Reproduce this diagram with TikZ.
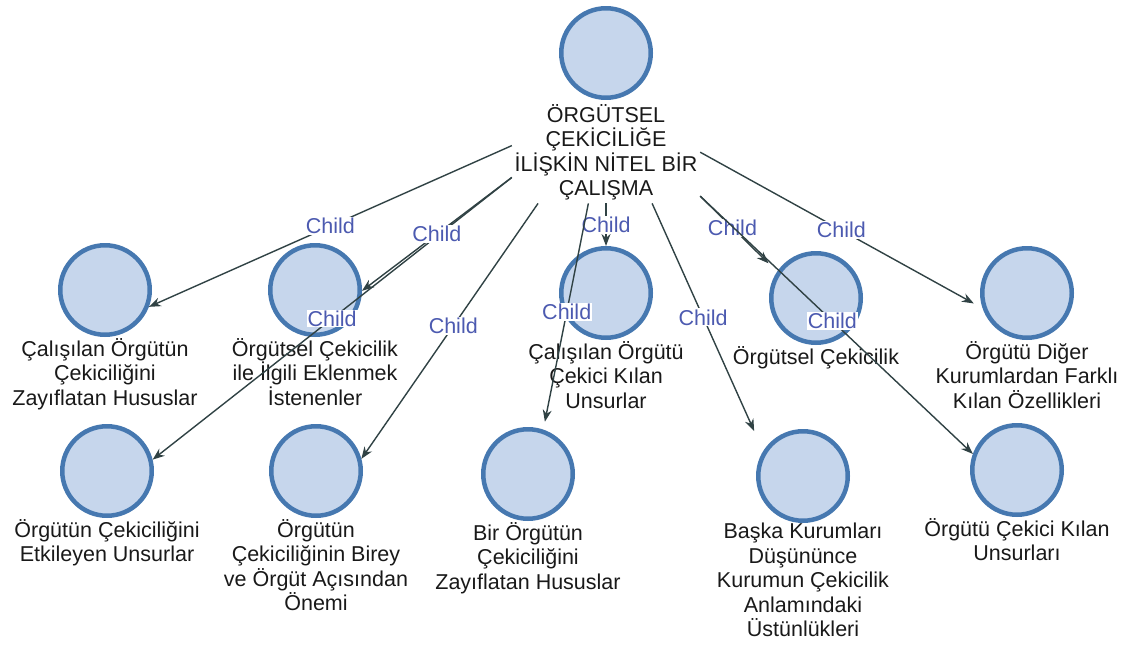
\documentclass[tikz,border=0pt]{standalone}
\usepackage{fontspec}
\setmainfont{Liberation Sans}
\usetikzlibrary{arrows.meta,positioning}
\definecolor{entfill}{RGB}{198,214,236}
\definecolor{entline}{RGB}{70,120,176}
\definecolor{linkcol}{RGB}{48,66,68}
\definecolor{childcol}{RGB}{76,90,176}
\begin{document}
\begin{tikzpicture}[x=1pt, y=-1pt, font=\fontsize{21.5}{24.5}\selectfont, line join=round, >={Stealth[length=12pt,width=9pt]},
    ent/.style={circle, draw=entline, fill=entfill, line width=4.5pt, minimum size=89.5pt, inner sep=0pt},
    txt/.style={align=center, inner sep=0pt, text=black!90, execute at begin node=\vphantom{Ö}},
    link/.style={->, draw=linkcol, line width=1.4pt},
    lab/.style={fill=white, text=childcol, inner sep=1pt}]
            \useasboundingbox (0,0) rectangle (1123,645);
            \node[ent] (root) at (606,53) {};
            \node[txt, minimum width=188pt, minimum height=102pt, below=1pt of root] (rt) {ÖRGÜTSEL\\ÇEKİCİLİĞE\\İLİŞKİN NİTEL BİR\\ÇALIŞMA};
            \node[ent] (zay) at (105,290) {};
            \node[txt, below=1pt of zay] (zayt) {Çalışılan Örgütün\\Çekiciliğini\\Zayıflatan Hususlar};
            \node[ent] (ekl) at (315,290) {};
            \node[txt, below=1pt of ekl] (eklt) {Örgütsel Çekicilik\\ile İlgili Eklenmek\\İstenenler};
            \node[ent] (cek) at (606,293) {};
            \node[txt, below=1pt of cek] (cekt) {Çalışılan Örgütü\\Çekici Kılan\\Unsurlar};
            \node[ent] (orc) at (816,298) {};
            \node[txt, below=1pt of orc] (orct) {Örgütsel Çekicilik};
            \node[ent] (fark) at (1027,293) {};
            \node[txt, below=1pt of fark] (farkt) {Örgütü Diğer\\Kurumlardan Farklı\\Kılan Özellikleri};
            \node[ent] (etk) at (107,471) {};
            \node[txt, below=1pt of etk] (etkt) {Örgütün Çekiciliğini\\Etkileyen Unsurlar};
            \node[ent] (onem) at (316,471) {};
            \node[txt, below=1pt of onem] (onemt) {Örgütün\\Çekiciliğinin Birey\\ve Örgüt Açısından\\Önemi};
            \node[ent] (bir) at (528,474) {};
            \node[txt, below=1pt of bir] (birt) {Bir Örgütün\\Çekiciliğini\\Zayıflatan Hususlar};
            \node[ent] (bas) at (803,476) {};
            \node[txt, below=0pt of bas] (bast) {Başka Kurumları\\Düşününce\\Kurumun Çekicilik\\Anlamındaki\\Üstünlükleri};
            \node[ent] (uns) at (1017,470) {};
            \node[txt, below=1pt of uns] (unst) {Örgütü Çekici Kılan\\Unsurları};
            \draw[link] (rt.176) -- node[lab] {Child} (zay.339);
            \draw[link] (rt.195) -- node[lab] {Child} (etk.14);
            \draw[link] (rt.195) -- node[lab] {Child} (ekl.359);
            \draw[link] (rt.217) -- node[lab, pos=.48] {Child} (onem.15);
            \draw[link] (rt.south) -- node[lab] {Child} (cek.north);
            \draw[link, shorten >=8pt] (rt.251) -- node[lab, pos=.48] {Child} (bir.71);
            \draw[link, shorten >=22pt] (rt.312) -- node[lab, pos=.46] {Child} (bas.148);
            \draw[link, shorten >=12pt] (rt.335) -- node[lab, pos=.42] {Child} (orc.146);
            \draw[link] (rt.335) -- node[lab, pos=.485] {Child} (uns.160);
            \draw[link, shorten >=10pt] (rt.east) -- node[lab] {Child} (fark.199);
    \end{tikzpicture}
\end{document}
